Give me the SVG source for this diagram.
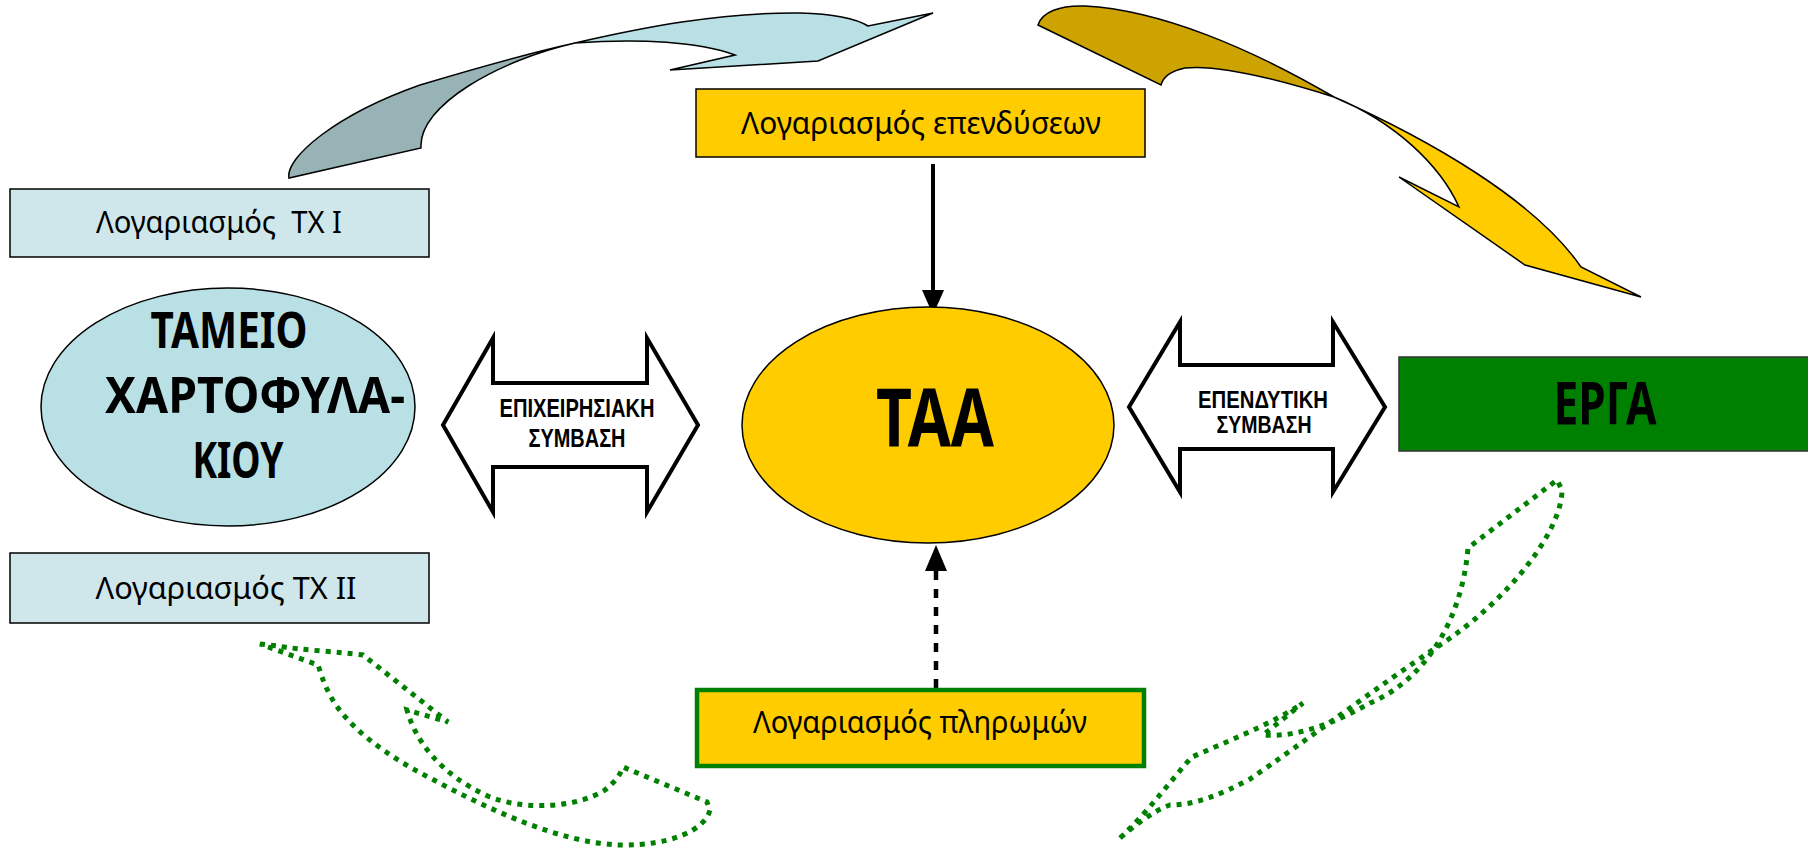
<svg xmlns="http://www.w3.org/2000/svg" width="1808" height="850" viewBox="0 0 1808 850">
<defs>
<style>
.lbl{font-family:"Noto Sans","Open Sans",sans-serif;font-size:30px;fill:#000;text-anchor:middle}
.big{font-family:"Noto Sans","Open Sans",sans-serif;font-weight:700;fill:#000;text-anchor:middle}
.arr{font-family:"Liberation Sans",Arial,sans-serif;font-weight:700;fill:#000;text-anchor:middle}
.thin{stroke:#000;stroke-width:1.5}
.dbl{fill:#fff;stroke:#000;stroke-width:4;stroke-linejoin:miter}
.dots{fill:none;stroke:#008000;stroke-width:5;stroke-dasharray:5 6}
</style>
</defs>
<rect width="1808" height="850" fill="#fff"/>
<g id="connectors">
  <!-- blue curved arrow -->
  <path class="thin" fill="#97B3B6" d="M289,178 C285,158 335,115 420,85 C480,67 530,53 575,43 C500,60 418,105 421,148 Z"/>
  <path class="thin" fill="#B9E0E5" d="M575,43 C640,28 720,12 800,13 C835,14 855,18 868,26 L933,13 L818,61 L670,70 L735,55 C700,42 640,38 575,43 Z"/>
  <!-- gold curved arrow -->
  <path class="thin" fill="#CCA300" d="M1038,25 C1042,12 1060,5 1085,6 C1160,10 1250,48 1334,97 C1280,80 1220,64 1185,68 C1170,71 1163,78 1161,85 Z"/>
  <path class="thin" fill="#FFCC00" d="M1334,97 C1430,140 1535,200 1581,267 L1641,297 L1525,265 L1399,177 L1459,207 C1440,165 1395,122 1334,97 Z"/>
  <!-- solid arrow -->
  <line x1="933" y1="164" x2="933" y2="292" stroke="#000" stroke-width="4"/>
  <polygon points="922,290 944,290 933,315" fill="#000"/>
  <!-- dashed arrow -->
  <line x1="936" y1="688" x2="936" y2="570" stroke="#000" stroke-width="4.5" stroke-dasharray="9 9"/>
  <polygon points="925,571 947,571 936,545" fill="#000"/>
  <!-- double arrows -->
  <polygon class="dbl" points="443,425 493,338 493,383 647,383 647,338 698,425 647,512 647,467 493,467 493,512"/>
  <polygon class="dbl" points="1129,407 1180,322 1180,365 1333,365 1333,322 1385,407 1333,492 1333,449 1180,449 1180,492"/>
  <text class="arr" x="577" y="417" font-size="25" textLength="155" lengthAdjust="spacingAndGlyphs">ΕΠΙΧΕΙΡΗΣΙΑΚΗ</text>
  <text class="arr" x="577" y="447" font-size="25" textLength="97" lengthAdjust="spacingAndGlyphs">ΣΥΜΒΑΣΗ</text>
  <text class="arr" x="1263" y="408" font-size="23" textLength="130" lengthAdjust="spacingAndGlyphs">ΕΠΕΝΔΥΤΙΚΗ</text>
  <text class="arr" x="1264" y="433" font-size="23" textLength="95" lengthAdjust="spacingAndGlyphs">ΣΥΜΒΑΣΗ</text>
  <!-- green dotted arrows -->
  <path class="dots" d="M260,644 L278,646 C300,650 340,652 363,655 L448,722 L407,710 C415,740 440,775 490,797 C530,812 580,806 605,790 C615,782 620,775 623,767 L707,802 L710,810 C705,830 670,846 620,845 C560,843 490,810 430,778 C385,755 345,725 330,695 C322,680 320,670 318,665 Z"/>
  <path class="dots" d="M1120,838 C1150,810 1175,775 1192,757 C1230,740 1270,725 1303,703 L1263,735 C1300,738 1340,720 1370,703 C1425,680 1462,620 1468,548 L1557,480 L1562,490 C1562,530 1510,600 1437,647 C1380,685 1300,745 1250,779 C1220,795 1195,805 1170,805 C1155,810 1135,825 1120,838 Z"/>
</g>
<g id="node-invest">
  <rect class="thin" x="696" y="89" width="449" height="68" fill="#FFCC00"/>
  <text class="lbl" x="921" y="134" textLength="360" lengthAdjust="spacingAndGlyphs">Λογαριασμός επενδύσεων</text>
</g>
<g id="node-tx1">
  <rect class="thin" x="10" y="189" width="419" height="68" fill="#CFE7EB"/>
  <text class="lbl" x="219" y="233" textLength="246" lengthAdjust="spacingAndGlyphs" xml:space="preserve">Λογαριασμός  ΤΧ Ι</text>
</g>
<g id="node-tameio">
  <ellipse class="thin" cx="228" cy="407" rx="187" ry="119" fill="#B9E0E5"/>
  <text class="big" x="229" y="348" font-size="50" textLength="157" lengthAdjust="spacingAndGlyphs">ΤΑΜΕΙΟ</text>
  <text class="big" x="255" y="413" font-size="50" textLength="300" lengthAdjust="spacingAndGlyphs">ΧΑΡΤΟΦΥΛΑ-</text>
  <text class="big" x="238" y="478" font-size="50" textLength="91" lengthAdjust="spacingAndGlyphs">ΚΙΟΥ</text>
</g>
<g id="node-tx2">
  <rect class="thin" x="10" y="553" width="419" height="70" fill="#CFE7EB"/>
  <text class="lbl" x="226" y="599" textLength="261" lengthAdjust="spacingAndGlyphs">Λογαριασμός ΤΧ ΙΙ</text>
</g>
<g id="node-taa">
  <ellipse class="thin" cx="928" cy="425" rx="186" ry="118" fill="#FFCC00"/>
  <text class="big" x="935" y="447" font-size="80" textLength="118" lengthAdjust="spacingAndGlyphs">ΤΑΑ</text>
</g>
<g id="node-erga">
  <rect x="1399" y="357" width="420" height="94" fill="#008000" stroke="#333" stroke-width="1.5"/>
  <text class="big" x="1605" y="424" font-size="60" textLength="103" lengthAdjust="spacingAndGlyphs">ΕΡΓΑ</text>
</g>
<g id="node-payments">
  <rect x="697" y="690" width="447" height="76" fill="#FFCC00" stroke="#008000" stroke-width="4.5"/>
  <text class="lbl" x="920" y="733" textLength="334" lengthAdjust="spacingAndGlyphs">Λογαριασμός πληρωμών</text>
</g>
</svg>
